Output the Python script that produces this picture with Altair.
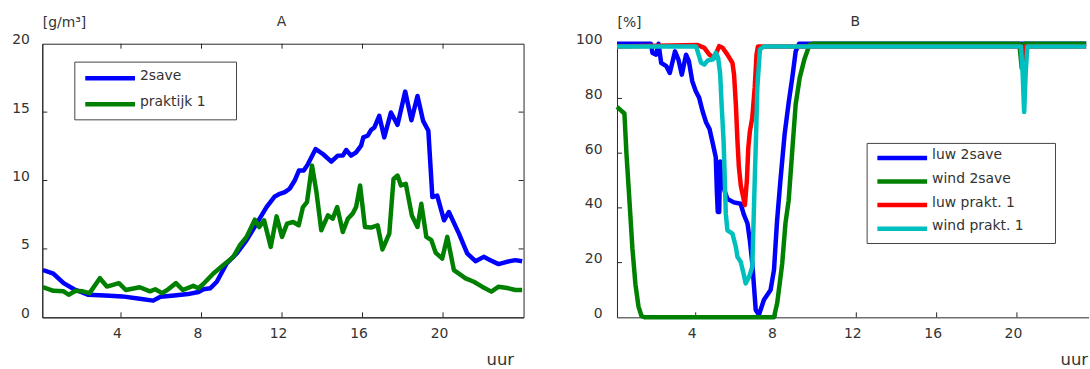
import altair as alt
import pandas as pd

# ---------------- data ----------------
x_ticks = [4, 8, 12, 16, 20]
a_y_ticks = [0, 5, 10, 15, 20]
b_y_ticks = [0, 20, 40, 60, 80, 100]

a_names = ["2save", "praktijk 1"]
a_colors = ["#0000ff", "#008000"]
b_names = ["luw 2save", "wind 2save", "luw prakt. 1", "wind prakt. 1"]
b_colors = ["#0000ff", "#008000", "#ff0000", "#00bfbf"]

# Panel A  [g/m3]
a_2save_h = [0.12, 0.64, 1.15, 1.67, 2.35, 3.2, 4.07, 4.93, 5.6, 5.96, 6.64, 7.33, 7.85,
             8.1, 8.43, 8.76, 9.25, 9.75, 10.24, 10.74, 11.23, 11.64, 11.89, 12.14, 12.38,
             12.63, 12.84, 13.08, 13.29, 13.67, 14.03, 14.45, 14.77, 15.02, 15.19, 15.43,
             15.68, 15.93, 16.04, 16.25, 16.42, 16.59, 16.83, 17.08, 17.41, 17.74, 18.12,
             18.43, 18.73, 19.01, 19.27, 19.47, 19.71, 20.05, 20.29, 20.79, 21.2, 21.61,
             22.02, 22.35, 22.76, 23.17, 23.59, 23.93]
a_2save_v = [3.46, 3.2, 2.5, 2.05, 1.65, 1.6, 1.53, 1.36, 1.22, 1.5, 1.6, 1.7, 1.85,
             2.05, 2.12, 2.6, 3.94, 4.67, 5.64, 6.85, 8.06, 8.84, 9.03, 9.15, 9.4,
             10.0, 10.73, 10.73, 11.2, 12.3, 11.94, 11.38, 11.82, 11.82, 12.23, 11.82,
             12.06, 12.55, 13.15, 13.27, 13.69, 13.88, 14.73, 13.15, 14.97, 14.07, 16.5,
             14.41, 16.18, 14.36, 13.64, 8.79, 8.9, 7.09, 7.7, 6.12, 4.67, 4.1,
             4.42, 4.18, 3.89, 4.06, 4.18, 4.1]

a_prak_h = [0.12, 0.64, 1.15, 1.4, 1.75, 2.1, 2.44, 2.95, 3.3, 3.9, 4.24, 4.93, 5.44, 5.7,
            6.04, 6.3, 6.73, 7.07, 7.59, 7.85, 8.1, 8.59, 9.09, 9.58, 9.91, 10.24, 10.65,
            10.87, 11.11, 11.44, 11.73, 12.0, 12.25, 12.55, 12.83, 13.04, 13.24, 13.49,
            13.7, 13.95, 14.28, 14.52, 14.74, 15.02, 15.27, 15.51, 15.68, 15.88, 16.12,
            16.42, 16.75, 16.99, 17.33, 17.54, 17.74, 17.91, 18.15, 18.45, 18.73, 18.92,
            19.17, 19.42, 19.64, 19.96, 20.21, 20.54, 21.12, 21.53, 21.94, 22.4, 22.76,
            23.26, 23.59, 23.93]
a_prak_v = [2.2, 1.94, 1.9, 1.65, 1.94, 1.9, 1.77, 2.86, 2.25, 2.5, 2.0, 2.2, 1.9, 2.05,
            1.77, 2.0, 2.5, 2.0, 2.3, 2.13, 2.45, 3.21, 3.82, 4.42, 5.27, 5.88, 7.14,
            6.6, 7.09, 5.15, 7.38, 5.88, 6.85, 6.97, 6.73, 8.06, 8.42, 11.09,
            9.27, 6.36, 7.45, 7.21, 8.06, 6.24, 7.21, 7.58, 8.06, 9.64, 6.6,
            6.56, 6.73, 4.96, 6.12, 10.12, 10.36, 9.64, 9.76, 7.45, 6.6, 8.3,
            5.88, 5.64, 4.71, 4.3, 5.88, 3.45, 2.85, 2.6, 2.24, 1.88, 2.24,
            2.12, 2.0, 2.0]

# Panel B  [%]
b_luw2_h = [0.08, 1.77, 1.85, 2.03, 2.15, 2.28, 2.54, 2.71, 2.97, 3.14, 3.31, 3.52, 3.66,
            3.83, 4.0, 4.17, 4.34, 4.52, 4.69, 4.86, 5.0, 5.06, 5.1, 5.17, 5.22, 5.3, 5.45,
            5.58, 5.9, 6.24, 6.4, 6.58, 6.7, 6.82, 6.99, 7.15, 7.4, 7.73, 7.9, 8.05, 8.22,
            8.43, 8.64, 8.81, 8.98, 9.15, 23.45]
b_luw2_v = [100, 100, 96.6, 96, 100, 93, 91.8, 89.3, 97.2, 94.2, 88.7, 96, 93.6,
            86.3, 82.7, 80.3, 75.4, 71.2, 68.8, 63.3, 58.5, 45, 38.5, 38.5, 57, 50, 46,
            43.3, 42, 41.5, 37.5, 34.3, 28, 19.7, 2.7, 0.9, 6.4, 10, 17.3, 35, 50,
            67, 79, 87.5, 97.2, 100, 100]

b_wind2_h = [0.08, 0.22, 0.45, 0.55, 0.68, 0.85, 1.0, 1.15, 1.3, 1.45, 7.9, 8.06, 8.31,
             8.47, 8.63, 8.81, 8.98, 9.18, 9.41, 9.67, 9.84, 20.12, 20.24, 20.36, 23.45]
b_wind2_v = [76.9, 76, 74.5, 60, 45, 25, 12, 4, 0.5, 0, 0, 5.2, 19.7,
             34.3, 42.7, 60.9, 77.8, 87.5, 94.2, 99.6, 100, 100, 91, 100, 100]

b_luwp_h = [0.08, 4.1, 4.43, 4.68, 4.92, 5.17, 5.34, 5.58, 5.83, 5.91, 6.0, 6.08, 6.15,
            6.25, 6.45, 6.55, 6.62, 6.7, 6.82, 6.94, 7.03, 7.1, 20.18, 20.3, 20.42, 23.45]
b_luwp_v = [99, 99.5, 98.5, 96, 94.8, 99.1, 98.5, 96, 93, 88.8, 77.9, 64.5, 55,
            48, 41, 50, 62, 68, 73, 84, 96, 99, 99, 93, 99, 99]

b_windp_h = [0.08, 4.02, 4.27, 4.43, 4.6, 4.85, 5.0, 5.12, 5.22, 5.29, 5.39, 5.45, 5.5,
             5.58, 5.83, 6.0, 6.08, 6.24, 6.38, 6.49, 6.66, 6.82, 6.94, 7.0, 7.07, 7.2,
             7.4, 20.2, 20.28, 20.36, 20.44, 20.52, 23.45]
b_windp_v = [99, 99, 93, 92.4, 93.9, 94.2, 96.7, 94.8, 88.8, 77.9, 64.5, 50, 37.9,
             31.8, 30.6, 25.7, 22.1, 20.3, 16.1, 12.4, 14.8, 18.5, 50, 64.5, 84, 97.9,
             99, 99, 90, 75, 90, 99, 99]

# ---------------- styling ----------------
FONT = "DejaVu Sans"
TXT = "#333333"
AX = "#262626"
LW = 4.5


def panel(names, colors, hs, vs, xdom, ydom, yticks, width, title, title_dx, ytitle,
          uur_x, box, line_x, row_y0, row_pitch, lab_pad, left_ticks, right_ticks,
          top_ticks):
    xenc = alt.X("h:Q", scale=alt.Scale(domain=xdom, nice=False, zero=False),
                 axis=alt.Axis(values=x_ticks, ticks=False, tickSize=0, grid=False,
                               labelOffset=-4, labelPadding=9, labelFontSize=14,
                               labelColor=TXT, labelFlush=False, domainColor=AX,
                               title="uur", titleX=uur_x, titleY=47.5, titleAlign="right",
                               titleBaseline="alphabetic", titleFontSize=16.5,
                               titleFontWeight="normal", titleColor=TXT))
    yenc = alt.Y("v:Q", scale=alt.Scale(domain=ydom, nice=False, zero=False),
                 axis=alt.Axis(values=yticks, ticks=False, tickSize=0, grid=False,
                               labelBaseline="alphabetic", labelPadding=lab_pad,
                               labelFontSize=14, labelColor=TXT, labelFlush=False,
                               domainColor=AX, title=ytitle, titleAngle=0, titleX=0,
                               titleY=-17.5, titleAlign="left", titleBaseline="alphabetic",
                               titleFontSize=14, titleFontWeight="normal", titleColor=TXT))
    layers = []
    # inward tick marks (MATLAB style)
    bt = pd.DataFrame({"h": x_ticks, "v": [ydom[0]] * len(x_ticks)})
    layers.append(alt.Chart(bt).mark_rule(color=AX, strokeWidth=1, y2Offset=-5)
                  .encode(x=xenc, y=yenc, y2="v"))
    if top_ticks:
        tt = pd.DataFrame({"h": x_ticks, "v": [ydom[1]] * len(x_ticks)})
        layers.append(alt.Chart(tt).mark_rule(color=AX, strokeWidth=1, y2Offset=5)
                      .encode(x=xenc, y=yenc, y2="v"))
    lt = pd.DataFrame({"h": [xdom[0]] * len(left_ticks), "v": left_ticks})
    layers.append(alt.Chart(lt).mark_rule(color=AX, strokeWidth=1, x2Offset=5)
                  .encode(x=xenc, x2="h", y=yenc))
    if right_ticks:
        rt = pd.DataFrame({"h": [xdom[1]] * len(right_ticks), "v": right_ticks})
        layers.append(alt.Chart(rt).mark_rule(color=AX, strokeWidth=1, x2Offset=-5)
                      .encode(x=xenc, x2="h", y=yenc))

    # data lines
    for n, c, h, v in zip(names, colors, hs, vs):
        d = pd.DataFrame({"h": h, "v": v})
        layers.append(alt.Chart(d).mark_line(color=c, strokeWidth=LW, strokeJoin="round",
                                             clip=False).encode(x=xenc, y=yenc))

    # legend box
    one = pd.DataFrame({"k": [0]})
    layers.append(alt.Chart(one).mark_rect(fill="white", stroke="#444444", strokeWidth=1)
                  .encode(x=alt.value(box[0]), x2=alt.value(box[1]),
                          y=alt.value(box[2]), y2=alt.value(box[3])))
    for i, (n, c) in enumerate(zip(names, colors)):
        ry = row_y0 + i * row_pitch
        layers.append(alt.Chart(one).mark_rule(color=c, strokeWidth=LW)
                      .encode(x=alt.value(line_x), x2=alt.value(line_x + 50),
                              y=alt.value(ry), y2=alt.value(ry)))
        ldf = pd.DataFrame({"t": [n]})
        layers.append(alt.Chart(ldf).mark_text(fontSize=14, font=FONT, color=TXT,
                                               baseline="alphabetic", align="left")
                      .encode(text="t:N", x=alt.value(line_x + 55),
                              y=alt.value(ry + 1.5)))

    # panel letter above the plot
    tdf = pd.DataFrame({"t": [title]})
    layers.append(alt.Chart(tdf).mark_text(fontSize=14, font=FONT, color=TXT,
                                           baseline="alphabetic", align="center",
                                           dx=title_dx)
                  .encode(text="t:N", x=alt.value(width / 2), y=alt.value(-17.5)))
    return alt.layer(*layers).properties(width=width, height=275)


left = panel(a_names, a_colors, [a_2save_h, a_prak_h], [a_2save_v, a_prak_v],
             [0.09, 24], [0, 20], a_y_ticks, 483.7, "A", -1.5, "[g/m³]", 473.7,
             (32.7, 195.2, 18.5, 76.5), 43.2, 34.8, 26, 13,
             [5, 10, 15], [5, 10, 15], True)
right = panel(b_names, b_colors, [b_luw2_h, b_wind2_h, b_luwp_h, b_windp_h],
              [b_luw2_v, b_wind2_v, b_luwp_v, b_windp_v],
              [0.08, 23.57], [0, 100], b_y_ticks, 474, "B", 2.5, "[%]", 473,
              (251.4, 440.7, 100.2, 200.8), 261.7, 114.8, 23.7, 15,
              [20, 40, 60, 80], [], False)
right = right.properties(view=alt.ViewBackground(stroke="transparent"))

chart = alt.hconcat(left, right, spacing=48.6).properties(
    padding={"left": 10.5, "top": 14, "right": 0, "bottom": 0}
).configure(font=FONT).configure_view(stroke=AX, strokeWidth=1)

chart.save("out.html", embed_options={"renderer": "svg", "actions": False})
